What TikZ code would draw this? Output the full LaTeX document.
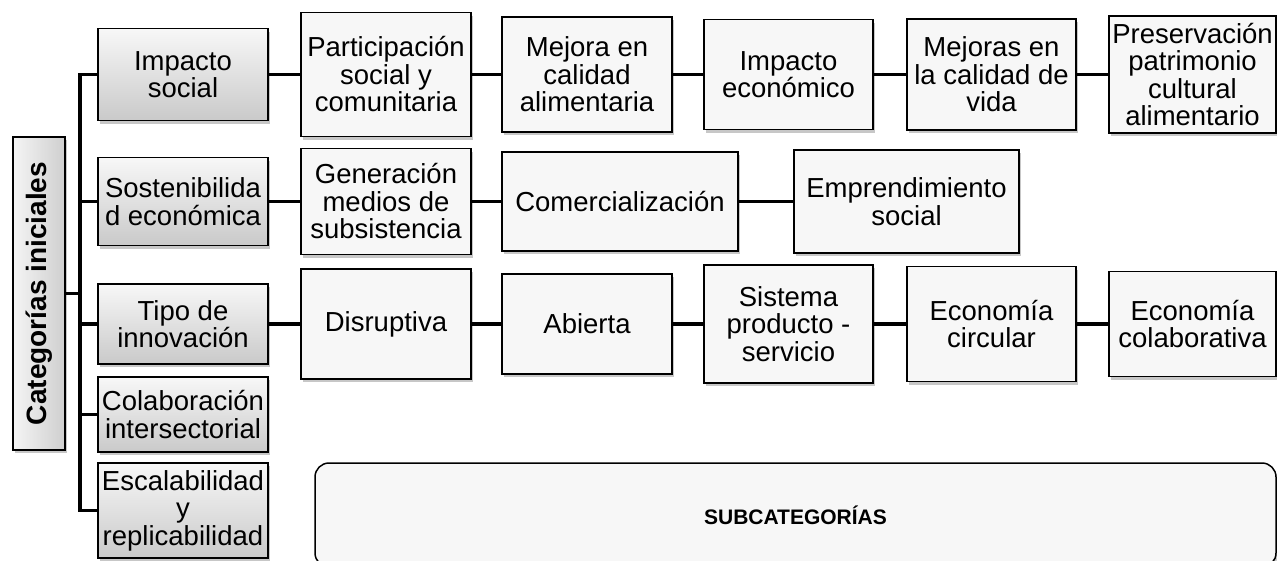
\documentclass[tikz,border=0pt]{standalone}
\usepackage{fontspec}
\setmainfont{Liberation Sans}
\usepackage{graphicx}
\usetikzlibrary{shadows}
\definecolor{boxfill}{HTML}{F7F7F7}
\tikzset{
  basebox/.style={draw=black, line width=1.8pt, inner sep=0pt, align=center,
    font=\fontsize{27.5}{27.5}\selectfont,
    drop shadow={shadow xshift=1.5pt, shadow yshift=-3pt, opacity=0.22, fill=black}},
  subbox/.style={basebox, fill=boxfill},
  catbox/.style={basebox, top color=gray!6, bottom color=gray!42,
    minimum width=170pt},
  conn/.style={line width=3.6pt, black},
}
\begin{document}
\begin{tikzpicture}[x=1pt,y=-1pt]
\clip (0,0) rectangle (1277,560);
\fill[white] (0,0) rectangle (1277,560);

% root
\node[basebox, left color=gray!8, right color=gray!38, minimum width=52pt, minimum height=313pt]
  (root) at (39,293.5) {\rotatebox{90}{\fontsize{28}{28}\selectfont\bfseries Categorías iniciales}};

% categories
\node[catbox, minimum height=92pt] (imp) at (183,74.5) {Impacto\\social};
\node[catbox, minimum height=88pt] (sos) at (183,201.5) {Sostenibilida\\d económica};
\node[catbox, minimum height=80pt] (tip) at (183,324) {Tipo de\\innovación};
\node[catbox, minimum height=75pt] (col) at (183,414.5) {Colaboración\\intersectorial};
\node[catbox, minimum height=95pt] (esc) at (183,510.5) {Escalabilidad\\y\\replicabilidad};

% row 1
\node[subbox, minimum width=170pt, minimum height=124pt] (a1) at (386,74.5) {Participación\\social y\\comunitaria};
\node[subbox, minimum width=170pt, minimum height=115pt] (a2) at (587,74.5) {Mejora en\\calidad\\alimentaria};
\node[subbox, minimum width=169pt, minimum height=110pt] (a3) at (788.5,74.5) {Impacto\\económico};
\node[subbox, minimum width=169pt, minimum height=111pt] (a4) at (991.5,74.5) {Mejoras en\\la calidad de\\vida};
\node[subbox, minimum width=167pt, minimum height=117pt] (a5) at (1192.5,74.5) {Preservación\\patrimonio\\cultural\\alimentario};

% row 2
\node[subbox, minimum width=170pt, minimum height=106pt] (b1) at (386,201.5) {Generación\\medios de\\subsistencia};
\node[subbox, minimum width=236pt, minimum height=99pt] (b2) at (620,201.5) {Comercialización};
\node[subbox, minimum width=225pt, minimum height=103pt] (b3) at (906.5,201.5) {Emprendimiento\\social};

% row 3
\node[subbox, minimum width=170pt, minimum height=110pt] (c1) at (386,324) {Disruptiva};
\node[subbox, minimum width=170pt, minimum height=100pt] (c2) at (587,324) {Abierta};
\node[subbox, minimum width=169pt, minimum height=118pt] (c3) at (788.5,324) {Sistema\\producto -\\servicio};
\node[subbox, minimum width=169pt, minimum height=115pt] (c4) at (991.5,324) {Economía\\circular};
\node[subbox, minimum width=167pt, minimum height=105pt] (c5) at (1192.5,324) {Economía\\colaborativa};

% subcategorias box
\node[basebox, fill=boxfill, rounded corners=14pt, line width=1.5pt,
  minimum width=961pt, minimum height=104pt,
  font=\fontsize{21}{21}\selectfont\bfseries] (sub) at (795.5,515) {SUBCATEGORÍAS};

% trunk
\coordinate (tr) at (80,0);
\draw[conn] (root.east) -- (root.east -| tr);
\draw[conn] (imp.west) -- (imp.west -| tr) -- (esc.west -| tr) -- (esc.west);
\draw[conn] (sos.west) -- (sos.west -| tr);
\draw[conn] (tip.west) -- (tip.west -| tr);
\draw[conn] (col.west) -- (col.west -| tr);

% rows
\draw[conn] (imp) -- (a1);
\draw[conn] (a1) -- (a2);
\draw[conn] (a2) -- (a3);
\draw[conn] (a3) -- (a4);
\draw[conn] (a4) -- (a5);
\draw[conn] (sos) -- (b1);
\draw[conn] (b1) -- (b2);
\draw[conn] (b2) -- (b3);
\draw[conn] (tip) -- (c1);
\draw[conn] (c1) -- (c2);
\draw[conn] (c2) -- (c3);
\draw[conn] (c3) -- (c4);
\draw[conn] (c4) -- (c5);
\end{tikzpicture}
\end{document}
